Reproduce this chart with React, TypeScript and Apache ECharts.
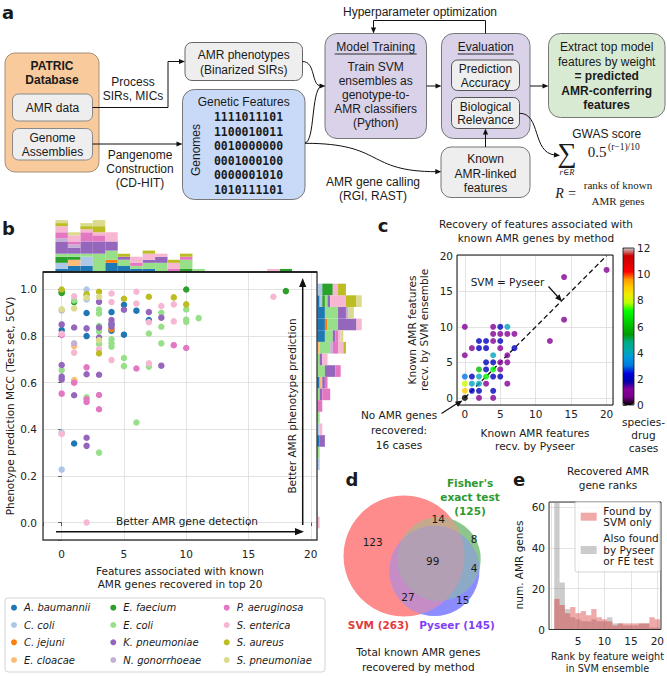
import React, { useEffect, useRef } from "react";
import * as echarts from "echarts";

// ---------------- Panel b data ----------------
const SPECIES = ["A. baumannii", "C. coli", "C. jejuni", "E. cloacae", "E. faecium", "E. coli", "K. pneumoniae", "N. gonorrhoeae", "P. aeruginosa", "S. enterica", "S. aureus", "S. pneumoniae"];
const SPECIES_COLORS = ["#1f77b4", "#aec7e8", "#ff7f0e", "#ffbb78", "#2ca02c", "#98df8a", "#9467bd", "#c5b0d5", "#e377c2", "#f7b6d2", "#bcbd22", "#dbdb8d"];

const A_BAUMANNII = [[0, 0.826], [1, 0.605], [1, 0.339], [2, 0.899], [2, 0.80], [4, 0.903], [4, 0.823], [4, 0.85], [5, 0.934], [5, 0.806], [6, 0.909], [7, 0.869]];
const C_COLI = [[0, 0.386], [0, 0.227], [2, 1.0], [2, 0.975], [2, 0.957]];
const C_JEJUNI = [[4, 0.83]];
const E_CLOACAE = [[1, 0.757], [1, 0.611]];
const E_FAECIUM = [[0, 0.99], [0, 0.985], [1, 0.946], [10, 1.0], [18, 0.993]];
const E_COLI = [[0, 0.654], [1, 0.953], [2, 0.537], [3, 0.914], [3, 0.897], [3, 0.843], [3, 0.82], [3, 0.766], [3, 0.30], [4, 0.786], [4, 0.769], [4, 0.754], [5, 0.706], [5, 0.671], [6, 0.429], [7, 0.811], [7, 0.669], [8, 0.90], [8, 0.84], [8, 0.769], [10, 0.914], [10, 0.871], [10, 0.861], [11, 0.877]];
const K_PNEUMONIAE = [[0, 0.85], [0, 0.676], [0, 0.626], [0, 0.614], [1, 0.837], [1, 0.546], [2, 0.833], [2, 0.636], [2, 0.364], [2, 0.329], [3, 0.947], [3, 0.837], [3, 0.794], [3, 0.634], [4, 0.869], [4, 0.854], [4, 0.84], [5, 0.913], [7, 0.903], [8, 0.879], [8, 0.673]];
const N_GONORRHOEAE = [[0, 0.91], [1, 0.769]];
const P_AERUGINOSA = [[0, 0.805], [0, 0.553], [1, 0.60], [2, 0.666], [2, 0.529], [2, 0.517], [3, 0.547], [3, 0.486], [6, 0.661], [9, 0.761], [10, 0.749]];
const S_ENTERICA = [[0, 0.81], [0, 0.38], [1, 0.971], [1, 0.729], [2, 0.0], [3, 0.744], [4, 0.983], [4, 0.946], [4, 0.697], [6, 0.99], [6, 0.94], [7, 0.86], [7, 0.683], [8, 0.929], [9, 0.936], [9, 0.863], [17, 0.969]];
const S_AUREUS = [[0, 1.0], [2, 0.98], [3, 0.99], [3, 0.726], [5, 0.96], [7, 0.969], [9, 0.966], [10, 0.936]];
const S_PNEUMONIAE = [[0, 0.915], [1, 0.919], [2, 0.965], [3, 0.969], [3, 0.783]];
const MCC_BY_SPECIES = [A_BAUMANNII, C_COLI, C_JEJUNI, E_CLOACAE, E_FAECIUM, E_COLI, K_PNEUMONIAE, N_GONORRHOEAE, P_AERUGINOSA, S_ENTERICA, S_AUREUS, S_PNEUMONIAE];

const TOP_BIN_CENTERS = [-1, 0, 1, 2, 3, 4, 5, 6, 7, 8, 9, 10, 11, 12, 13, 14, 15, 16, 17, 18, 19, 20];
const RIGHT_BIN_STEPS = [-1, 0, 1, 2, 3, 4, 5, 6, 7, 8, 9, 10, 11, 12, 13, 14, 15, 16, 17, 18, 19, 20, 21]; // x 0.05
const RIGHT_BIN_WIDTH = 0.05;

// ---------------- Panel c data ----------------
const PYSEER_RECV = [0, 0, 0, 0, 0, 1, 1, 1, 1, 2, 2, 2, 2, 2, 2, 2, 3, 3, 3, 3, 3, 3, 4, 4, 4, 4, 4, 4, 4, 4, 4, 5, 5, 5, 5, 5, 5, 5, 6, 6, 6, 6, 6, 7, 7, 12, 14, 14, 20];
const SVM_RECV = [10, 6, 3, 2, 1, 1, 2, 3, 7, 0, 1, 2, 3, 4, 7, 8, 8, 7, 5, 4, 3, 2, 10, 9, 8, 6, 5, 4, 3, 1, 0, 10, 9, 8, 7, 5, 4, 3, 10, 9, 6, 5, 2, 9, 7, 8, 17, 11, 18];
const CASE_COUNTS = [1, 1, 3, 8, 9, 2, 4, 2, 1, 1, 2, 4, 4, 6, 2, 2, 2, 2, 2, 2, 7, 1, 1, 1, 1, 4, 2, 7, 2, 2, 1, 2, 1, 2, 1, 1, 1, 2, 4, 1, 1, 1, 1, 1, 2, 1, 1, 1, 1];
const NONE_RECOVERED = [0, 0, 16];
const EQUALITY_LINE = [[0, 0], [20, 20]];
const NIPY_SPECTRAL = ["#000000", "#770088", "#880099", "#0000aa", "#0000dd", "#0077dd", "#0099dd", "#00aaaa", "#00aa88", "#009900", "#00bb00", "#00dd00", "#00ff00", "#bbff00", "#eeee00", "#ffcc00", "#ff9900", "#ff0000", "#dd0000", "#cc0000", "#cccccc"];

// ---------------- Panel d data ----------------
const VENN_SETS = ["SVM", "Fisher's exact test", "Pyseer"];
const VENN_TOTALS = [263, 125, 145];
const VENN_REGION_MEMBERS = [[0], [0, 1], [1], [0, 1, 2], [1, 2], [0, 2], [2]];
const VENN_REGION_COUNTS = [123, 14, 8, 99, 4, 27, 15];

// ---------------- Panel e data ----------------
const RANKS = [1, 2, 3, 4, 5, 6, 7, 8, 9, 10, 11, 12, 13, 14, 15, 16, 17, 18, 19, 20];
const SVM_ONLY = [15, 12, 8, 11, 8, 9, 7, 10, 6, 5, 4, 2, 3, 3, 3, 3, 3, 3, 6, 5];
const ALSO_FOUND = [62, 23, 10, 6, 5, 4, 4, 5, 4, 4, 6, 3, 3, 2, 2, 2, 3, 3, 1, 1];

// ---------------- Panel a text ----------------
const BINARY_ROWS = ["1111011101", "1100010011", "0010000000", "0001000100", "0000001010", "1010111101"];

// ---------------- helpers ----------------
const FA = "'Liberation Sans', Arial, sans-serif";
const FM = "'DejaVu Sans', sans-serif";
const FS = "'Liberation Serif', 'DejaVu Serif', serif";
const FMONO = "'DejaVu Sans Mono', monospace";

const T = (x: number, y: number, text: string, o: any = {}) => ({
  type: "text", x, y, rotation: o.rot || 0, z: 60, silent: true,
  style: {
    text,
    font: `${o.italic ? "italic" : "normal"} ${o.bold ? "bold" : "normal"} ${o.size || 12}px ${o.family || FA}`,
    fill: o.color || "#1a1a1a",
    align: o.align || "center", verticalAlign: o.valign || "middle",
    textAlign: o.align || "center", textVerticalAlign: o.valign || "middle",
  },
});
const TL = (x: number, y0: number, lines: string[], dy: number, o: any = {}) => lines.map((l, i) => T(x, y0 + i * dy, l, o));
const R = (x: number, y: number, w: number, h: number, r: number, fill: string, stroke: string, lw = 1) => ({
  type: "rect", z: 20, silent: true, shape: { x, y, width: w, height: h, r }, style: { fill, stroke, lineWidth: lw },
});
const L = (x1: number, y1: number, x2: number, y2: number, o: any = {}) => ({
  type: "line", z: o.z || 30, silent: true, shape: { x1, y1, x2, y2 }, style: { stroke: o.color || "#111", lineWidth: o.lw || 1 },
});
const PL = (points: number[][], lw = 1) => ({ type: "polyline", z: 30, silent: true, shape: { points }, style: { stroke: "#111", lineWidth: lw, fill: "none" } });
const BZ = (x1: number, y1: number, c1x: number, c1y: number, c2x: number, c2y: number, x2: number, y2: number) => ({
  type: "bezierCurve", z: 30, silent: true, shape: { x1, y1, cpx1: c1x, cpy1: c1y, cpx2: c2x, cpy2: c2y, x2, y2 }, style: { stroke: "#111", lineWidth: 1, fill: "none" },
});
const H = (tx: number, ty: number, ang: number, len = 6, hw = 2.6) => {
  const bx = tx - len * Math.cos(ang), by = ty - len * Math.sin(ang);
  const nx = -Math.sin(ang) * hw, ny = Math.cos(ang) * hw;
  return { type: "polygon", z: 31, silent: true, shape: { points: [[tx, ty], [bx + nx, by + ny], [bx - nx, by - ny]] }, style: { fill: "#111" } };
};
const isMult = (v: number, s: number) => Math.abs(v / s - Math.round(v / s)) < 1e-6;

// ---------------- layout ----------------
const GB = { left: 43, top: 272, width: 274, height: 268 };
const GC = { left: 457, top: 255, width: 156, height: 150 };
const GE = { left: 549, top: 502, width: 112, height: 127.5 };
const VENN_K = 3.73;
const VENN_CENTERS = [[404, 556], [439, 559], [434.5, 571]];
const VENN_BASE = [[255, 0, 0], [0, 128, 0], [0, 0, 255]];
const VENN_LABEL_POS = [[372.7, 541.7], [438.3, 519.3], [474, 539], [432.7, 560.7], [474, 568], [408, 596.7], [462.7, 600]];

function buildOption() {
  // histograms derived from the scatter points
  const topHist = MCC_BY_SPECIES.map((pts) => TOP_BIN_CENTERS.map((c) => pts.filter((p) => Math.round(p[0]) === c).length));
  const rightHist = MCC_BY_SPECIES.map((pts) => RIGHT_BIN_STEPS.map((k) => pts.filter((p) => Math.round(p[1] / RIGHT_BIN_WIDTH) === k).length));

  const series: any[] = [];
  SPECIES.forEach((s, i) => {
    series.push({ type: "bar", name: s + " top", xAxisIndex: 0, yAxisIndex: 0, stack: "top", data: topHist[i], barCategoryGap: "0%", itemStyle: { color: SPECIES_COLORS[i] }, silent: true });
  });
  SPECIES.forEach((s, i) => {
    series.push({ type: "scatter", name: s, xAxisIndex: 1, yAxisIndex: 1, data: MCC_BY_SPECIES[i], symbolSize: 6.5, itemStyle: { color: SPECIES_COLORS[i], opacity: 1 }, silent: true });
  });
  SPECIES.forEach((s, i) => {
    series.push({ type: "bar", name: s + " right", xAxisIndex: 2, yAxisIndex: 2, stack: "right", data: rightHist[i], barCategoryGap: "0%", itemStyle: { color: SPECIES_COLORS[i] }, silent: true });
  });
  series.push({ type: "line", xAxisIndex: 3, yAxisIndex: 3, data: EQUALITY_LINE, symbol: "none", lineStyle: { color: "#111", width: 1.3, type: [5, 3] }, silent: true, z: 1 });
  const cIndex = series.length;
  series.push({ type: "scatter", xAxisIndex: 3, yAxisIndex: 3, data: PYSEER_RECV.map((x, i) => [x, SVM_RECV[i], CASE_COUNTS[i]]), symbolSize: 6, silent: true, z: 3 });
  series.push({ type: "scatter", xAxisIndex: 3, yAxisIndex: 3, data: [NONE_RECOVERED], symbolSize: 6, itemStyle: { color: "#000" }, silent: true, z: 4 });
  series.push({ type: "bar", xAxisIndex: 5, yAxisIndex: 5, data: RANKS.map((r, i) => [r, ALSO_FOUND[i]]), barWidth: GE.width / 21, barGap: "-100%", itemStyle: { color: "rgba(127,127,127,0.4)" }, silent: true });
  series.push({ type: "bar", xAxisIndex: 5, yAxisIndex: 5, data: RANKS.map((r, i) => [r, SVM_ONLY[i]]), barWidth: GE.width / 21, barGap: "-100%", itemStyle: { color: "rgba(214,39,40,0.4)" }, silent: true });

  const tick = { show: true, length: 3.5, lineStyle: { color: "#333", width: 0.8 } };
  const split = { show: true, lineStyle: { color: "#dcdcdc", width: 0.8 } };
  const lab = (margin: number, fmt?: any) => ({ color: "#222", fontSize: 10.5, fontFamily: FM, margin, formatter: fmt });
  const hidden = { show: false };

  const xAxis: any[] = [
    { type: "category", gridIndex: 0, data: TOP_BIN_CENTERS.map(String), show: false, boundaryGap: true },
    { type: "value", gridIndex: 1, min: -1.5, max: 20.5, axisLine: hidden, axisTick: tick, splitLine: split, axisLabel: lab(8, (v: number) => (isMult(v, 5) ? String(Math.round(v)) : "")) },
    { type: "value", gridIndex: 2, min: 0, max: 19, show: false },
    { type: "value", gridIndex: 3, min: -1.1, max: 20.9, axisLine: hidden, axisTick: hidden, splitLine: split, axisLabel: lab(3, (v: number) => (isMult(v, 5) ? String(Math.round(v)) : "")) },
    { type: "value", gridIndex: 4, min: 0, max: 1, show: false },
    { type: "value", gridIndex: 5, min: -0.5, max: 20.5, axisLine: hidden, axisTick: hidden, splitLine: { show: true, lineStyle: { color: "#dcdcdc", width: 0.8 } }, axisLabel: lab(6, (v: number) => (isMult(v, 5) && v > 0 ? String(Math.round(v)) : "")) },
  ];
  const yAxis: any[] = [
    { type: "value", gridIndex: 0, min: 0, max: 18, show: false },
    { type: "value", gridIndex: 1, min: -0.075, max: 1.075, axisLine: hidden, axisTick: tick, splitLine: split, axisLabel: lab(6, (v: number) => (isMult(v, 0.2) ? v.toFixed(1) : "")) },
    { type: "category", gridIndex: 2, data: RIGHT_BIN_STEPS.map(String), show: false, boundaryGap: true },
    { type: "value", gridIndex: 3, min: -1, max: 20.1, axisLine: hidden, axisTick: hidden, splitLine: split, axisLabel: lab(4, (v: number) => (isMult(v, 5) ? String(Math.round(v)) : "")) },
    { type: "value", gridIndex: 4, min: 0, max: 12, interval: 2, position: "right", axisLine: hidden, axisTick: { show: true, length: 3.5, lineStyle: { color: "#222", width: 0.8 } }, splitLine: hidden, axisLabel: lab(3) },
    { type: "value", gridIndex: 5, min: 0, max: 62.5, interval: 20, axisLine: hidden, axisTick: hidden, splitLine: split, axisLabel: lab(4, (v: number) => (isMult(v, 20) ? String(Math.round(v)) : "")) },
  ];
  const grid = [
    { left: GB.left, top: GB.top - 55, width: GB.width, height: 55 },
    { ...GB },
    { left: GB.left + GB.width, top: GB.top, width: 50, height: GB.height },
    { ...GC },
    { left: 623, top: 248, width: 11, height: 157 },
    { ...GE },
  ];

  // ---------------- graphic ----------------
  const g: any[] = [];
  // panel labels
  g.push(T(8, 12.5, "a", { bold: true, size: 18, family: FM }));
  g.push(T(8.5, 228, "b", { bold: true, size: 18, family: FM }));
  g.push(T(383, 225, "c", { bold: true, size: 18, family: FM }));
  g.push(T(352, 479, "d", { bold: true, size: 18, family: FM }));
  g.push(T(519, 479, "e", { bold: true, size: 18, family: FM }));

  // ---- panel a ----
  g.push(R(5, 53, 94, 119, 10, "#f9cb9c", "#a88c74"));
  g.push(...TL(52, 66, ["PATRIC", "Database"], 14, { bold: true, size: 12 }));
  g.push(R(12.5, 94, 80, 27, 6, "#eeeeee", "#8a8a8a"));
  g.push(T(52.5, 107.5, "AMR data"));
  g.push(R(12.5, 128.5, 80, 31.5, 6, "#eeeeee", "#8a8a8a"));
  g.push(...TL(52.5, 137.5, ["Genome", "Assemblies"], 14));
  g.push(...TL(133, 82, ["Process", "SIRs, MICs"], 14.3));
  g.push(R(185, 42.5, 117.5, 38, 7, "#eeeeee", "#666"));
  g.push(...TL(243.7, 55, ["AMR phenotypes", "(Binarized SIRs)"], 14.5));
  g.push(...TL(140, 155, ["Pangenome", "Construction", "(CD-HIT)"], 14));
  g.push(R(182.5, 89.5, 122.5, 110, 12, "#c9daf8", "#777"));
  g.push(T(243.7, 102, "Genetic Features"));
  BINARY_ROWS.forEach((r, i) => g.push(T(248.5, 117 + i * 14.5, r, { bold: true, size: 11.5, family: FMONO })));
  g.push(T(196, 150, "Genomes", { rot: Math.PI / 2 }));
  g.push(PL([[92.5, 107.5], [168, 107.5], [168, 61.5], [180, 61.5]]));
  g.push(H(185, 61.5, 0));
  g.push(L(92.5, 144, 178, 144));
  g.push(H(182.5, 144, 0));

  g.push(T(420, 12, "Hyperparameter optimization"));
  g.push(PL([[485.5, 33.5], [485.5, 20.5], [373.5, 20.5], [373.5, 28.5]]));
  g.push(H(373.5, 33.5, Math.PI / 2));
  g.push(R(325, 33.5, 101.5, 105, 12, "#d9d2e9", "#777"));
  g.push(T(375.7, 47, "Model Training"));
  g.push(L(334.7, 54, 416.7, 54, { lw: 0.9, color: "#1a1a1a", z: 61 }));
  g.push(...TL(375.7, 66.5, ["Train SVM", "ensembles as", "genotype-to-", "AMR classifiers", "(Python)"], 14.2));
  g.push(R(441.5, 33.5, 88.5, 105, 12, "#d9d2e9", "#777"));
  g.push(T(485.7, 47, "Evaluation"));
  g.push(L(457.7, 54, 513.7, 54, { lw: 0.9, color: "#1a1a1a", z: 61 }));
  g.push(R(451.5, 60, 68, 30.5, 6, "#eeeeee", "#555"));
  g.push(...TL(485.5, 69, ["Prediction", "Accuracy"], 14));
  g.push(R(451.5, 97.5, 68, 31, 6, "#eeeeee", "#555"));
  g.push(...TL(485.5, 106.5, ["Biological", "Relevance"], 13.7));
  g.push(L(426.5, 86, 437, 86));
  g.push(H(441.5, 86, 0));
  g.push(L(530, 86, 544, 86));
  g.push(H(548.5, 86, 0));
  g.push(R(548.5, 33.5, 116.5, 84, 12, "#d9ead3", "#777"));
  g.push(...TL(606.7, 47, ["Extract top model", "features by weight"], 14.5));
  g.push(...TL(606.7, 76, ["= predicted", "AMR-conferring", "features"], 14.7, { bold: true }));
  g.push(R(441, 147, 89, 50.5, 10, "#eeeeee", "#777"));
  g.push(...TL(485.5, 159, ["Known", "AMR-linked", "features"], 14.5));
  g.push(L(485.5, 147, 485.5, 133));
  g.push(H(485.5, 128.5, -Math.PI / 2));
  g.push(...TL(373, 182, ["AMR gene calling", "(RGI, RAST)"], 14.2));
  g.push(BZ(302.5, 61.5, 316, 61.5, 311, 86, 321, 86));
  g.push(BZ(305, 143, 315, 141, 311, 92, 321, 86));
  g.push(H(325.5, 86, 0));
  g.push(BZ(305, 143.3, 385, 143.3, 365, 171.7, 437, 171.7));
  g.push(H(441.3, 171.7, 0));
  g.push(BZ(519.5, 113.3, 541, 113, 532, 153, 555, 155));
  g.push(H(560, 155.5, 0.1));
  g.push(T(606.7, 133.5, "GWAS score"));
  g.push(T(567, 153, "\u2211", { size: 27, family: FS }));
  g.push(T(597, 152, "0.5", { size: 15, family: FS }));
  g.push(T(608, 146.5, "(r\u22121)/10", { size: 9.5, family: FS, align: "left" }));
  g.push(T(567, 172, "r\u2208R", { size: 8.5, family: FS, italic: true }));
  g.push(T(566, 193.3, "R =", { size: 14, family: FS, italic: true }));
  g.push(T(618, 185, "ranks of known", { size: 11, family: FS }));
  g.push(T(618, 200.5, "AMR genes", { size: 11, family: FS }));

  // ---- panel b ----
  g.push({ type: "rect", z: 40, silent: true, shape: { x: GB.left, y: GB.top, width: GB.width, height: GB.height }, style: { fill: "none", stroke: "#444", lineWidth: 1.4 } });
  g.push(L(GB.left, GB.top, GB.left + GB.width, GB.top, { color: "#111", lw: 1.4, z: 41 }));
  g.push(L(56, 531.7, 298, 531.7, { lw: 1.5 }));
  g.push(H(304, 531.7, 0, 9, 3.6));
  g.push(T(187, 521, "Better AMR gene detection", { size: 10.5, family: FM }));
  g.push(L(302.7, 525, 302.7, 285, { lw: 1.5 }));
  g.push(H(302.7, 278, -Math.PI / 2, 9, 3.6));
  g.push(T(291.7, 406, "Better AMR phenotype prediction", { size: 10.5, family: FM, rot: Math.PI / 2 }));
  g.push(T(10, 406, "Phenotype prediction MCC (Test set, 5CV)", { size: 10.5, family: FM, rot: Math.PI / 2 }));
  g.push(...TL(180, 570.7, ["Features associated with known", "AMR genes recovered in top 20"], 13.4, { size: 10.5, family: FM }));
  g.push({ type: "rect", z: 45, silent: true, shape: { x: 5, y: 598, width: 320, height: 74, r: 3 }, style: { fill: "#fff", stroke: "#d4d4d4", lineWidth: 1 } });
  const legX = [14, 113.3, 226.7];
  const legY = [607.7, 625, 642.3, 660];
  SPECIES.forEach((s, i) => {
    const cx = legX[Math.floor(i / 4)], cy = legY[i % 4];
    g.push({ type: "circle", z: 46, silent: true, shape: { cx, cy, r: 3 }, style: { fill: SPECIES_COLORS[i] } });
    g.push(T(cx + 10, cy, s, { size: 10, family: FM, italic: true, align: "left" }));
  });

  // ---- panel c ----
  g.push({ type: "rect", z: 40, silent: true, shape: { x: GC.left, y: GC.top, width: GC.width, height: GC.height }, style: { fill: "none", stroke: "#111", lineWidth: 1 } });
  g.push({ type: "rect", z: 40, silent: true, shape: { x: 623, y: 248, width: 11, height: 157 }, style: { fill: "none", stroke: "#111", lineWidth: 0.8 } });
  g.push(...TL(536, 223.5, ["Recovery of features associated with", "known AMR genes by method"], 14, { size: 10.5, family: FM }));
  g.push(T(411.7, 330, "Known AMR features", { size: 10.5, family: FM, rot: Math.PI / 2 }));
  g.push(T(424.3, 330, "recv. by SVM ensemble", { size: 10.5, family: FM, rot: Math.PI / 2 }));
  g.push(...TL(535, 433, ["Known AMR features", "recv. by Pyseer"], 13, { size: 10.5, family: FM }));
  g.push(...TL(643.5, 422, ["species-", "drug", "cases"], 13, { size: 10.5, family: FM }));
  g.push(T(507.5, 281.7, "SVM = Pyseer", { size: 10.5, family: FM }));
  g.push(L(548.5, 286.5, 558, 297, { lw: 1.2 }));
  g.push(H(562, 301.5, Math.atan2(14.5, 13), 7, 3));
  g.push(...TL(399, 415, ["No AMR genes", "recovered:", "16 cases"], 15, { size: 10.5, family: FM }));
  g.push(L(441.5, 413.5, 457, 403.5, { lw: 1.2 }));
  g.push(H(462.5, 400.5, Math.atan2(-13, 21), 7, 3));

  // ---- panel d (Venn) ----
  const radii = VENN_TOTALS.map((n) => VENN_K * Math.sqrt(n));
  const inside = (p: number[], j: number) => Math.hypot(p[0] - VENN_CENTERS[j][0], p[1] - VENN_CENTERS[j][1]) <= radii[j] + 1e-6;
  const regionColor = (ids: number[]) => {
    const a = 0.45;
    const m = [0, 1, 2].map((k) => ids.reduce((s, i) => s + VENN_BASE[i][k], 0) / ids.length);
    return `rgb(${m.map((v) => Math.round(a * v + (1 - a) * 255)).join(",")})`;
  };
  const lens = (ids: number[]) => {
    const pts: number[][] = [];
    ids.forEach((i) => {
      for (let k = 0; k < 720; k++) {
        const ang = (k * Math.PI) / 360;
        const p = [VENN_CENTERS[i][0] + radii[i] * Math.cos(ang), VENN_CENTERS[i][1] + radii[i] * Math.sin(ang)];
        if (ids.every((j) => j === i || inside(p, j))) pts.push(p);
      }
    });
    const mx = pts.reduce((s, p) => s + p[0], 0) / pts.length;
    const my = pts.reduce((s, p) => s + p[1], 0) / pts.length;
    pts.sort((p, q) => Math.atan2(p[1] - my, p[0] - mx) - Math.atan2(q[1] - my, q[0] - mx));
    return pts;
  };
  [0, 1, 2].forEach((i) => g.push({ type: "circle", z: 20, silent: true, shape: { cx: VENN_CENTERS[i][0], cy: VENN_CENTERS[i][1], r: radii[i] }, style: { fill: regionColor([i]) } }));
  [[0, 1], [0, 2], [1, 2]].forEach((ids) => g.push({ type: "polygon", z: 21, silent: true, shape: { points: lens(ids) }, style: { fill: regionColor(ids) } }));
  g.push({ type: "polygon", z: 22, silent: true, shape: { points: lens([0, 1, 2]) }, style: { fill: regionColor([0, 1, 2]) } });
  VENN_REGION_COUNTS.forEach((c, i) => g.push(T(VENN_LABEL_POS[i][0], VENN_LABEL_POS[i][1], String(c), { size: 10.5, family: FM })));
  g.push(...TL(470, 483.3, ["Fisher's", "exact test", `(${VENN_TOTALS[1]})`], 13.7, { size: 10.5, family: FM, bold: true, color: "#2e9a2e" }));
  g.push(T(378.5, 625.3, `${VENN_SETS[0]} (${VENN_TOTALS[0]})`, { size: 10.5, family: FM, bold: true, color: "#e23b3b" }));
  g.push(T(457, 625.3, `${VENN_SETS[2]} (${VENN_TOTALS[2]})`, { size: 10.5, family: FM, bold: true, color: "#7f3ff5" }));
  g.push(...TL(418.3, 651.7, ["Total known AMR genes", "recovered by method"], 15, { size: 10.5, family: FM }));

  // ---- panel e ----
  g.push({ type: "rect", z: 40, silent: true, shape: { x: GE.left, y: GE.top, width: GE.width, height: GE.height }, style: { fill: "none", stroke: "#333", lineWidth: 1 } });
  g.push(...TL(608, 470.7, ["Recovered AMR", "gene ranks"], 14.3, { size: 10.5, family: FM }));
  g.push(T(519, 565, "num. AMR genes", { size: 10.5, family: FM, rot: Math.PI / 2 }));
  g.push(...TL(607.5, 656.7, ["Rank by feature weight", "in SVM ensemble"], 11.8, { size: 9.7, family: FM }));
  g.push({ type: "rect", z: 45, silent: true, shape: { x: 575, y: 502, width: 85, height: 70, r: 2 }, style: { fill: "rgba(255,255,255,0.8)", stroke: "#d4d4d4", lineWidth: 1 } });
  g.push({ type: "rect", z: 46, silent: true, shape: { x: 580.7, y: 512.7, width: 16, height: 8 }, style: { fill: "rgba(214,39,40,0.4)" } });
  g.push({ type: "rect", z: 46, silent: true, shape: { x: 580.7, y: 546, width: 16, height: 8 }, style: { fill: "rgba(127,127,127,0.4)" } });
  g.push(...TL(603.3, 510.7, ["Found by", "SVM only"], 11, { size: 10.5, family: FM, align: "left" }));
  g.push(...TL(603.3, 538.3, ["Also found", "by Pyseer", "or FE test"], 11.2, { size: 10.5, family: FM, align: "left" }));

  return {
    animation: false,
    backgroundColor: "#ffffff",
    textStyle: { fontFamily: FM },
    grid,
    xAxis,
    yAxis,
    visualMap: [{
      type: "continuous", min: 0, max: 12, seriesIndex: cIndex, dimension: 2, inRange: { color: NIPY_SPECTRAL },
      left: 623, top: 248, itemWidth: 11, itemHeight: 157, calculable: false, realtime: false, show: true, padding: 0, orient: "vertical", hoverLink: false,
    }],
    series,
    graphic: { elements: g },
  };
}

export default function App() {
  const ref = useRef<HTMLDivElement>(null);
  useEffect(() => {
    if (!ref.current) return;
    const chart = echarts.init(ref.current, null, { renderer: "svg" });
    chart.setOption(buildOption() as any);
    return () => chart.dispose();
  }, []);
  return <div ref={ref} style={{ position: "absolute", left: 0, top: 0, width: 667, height: 676, background: "#fff" }} />;
}
